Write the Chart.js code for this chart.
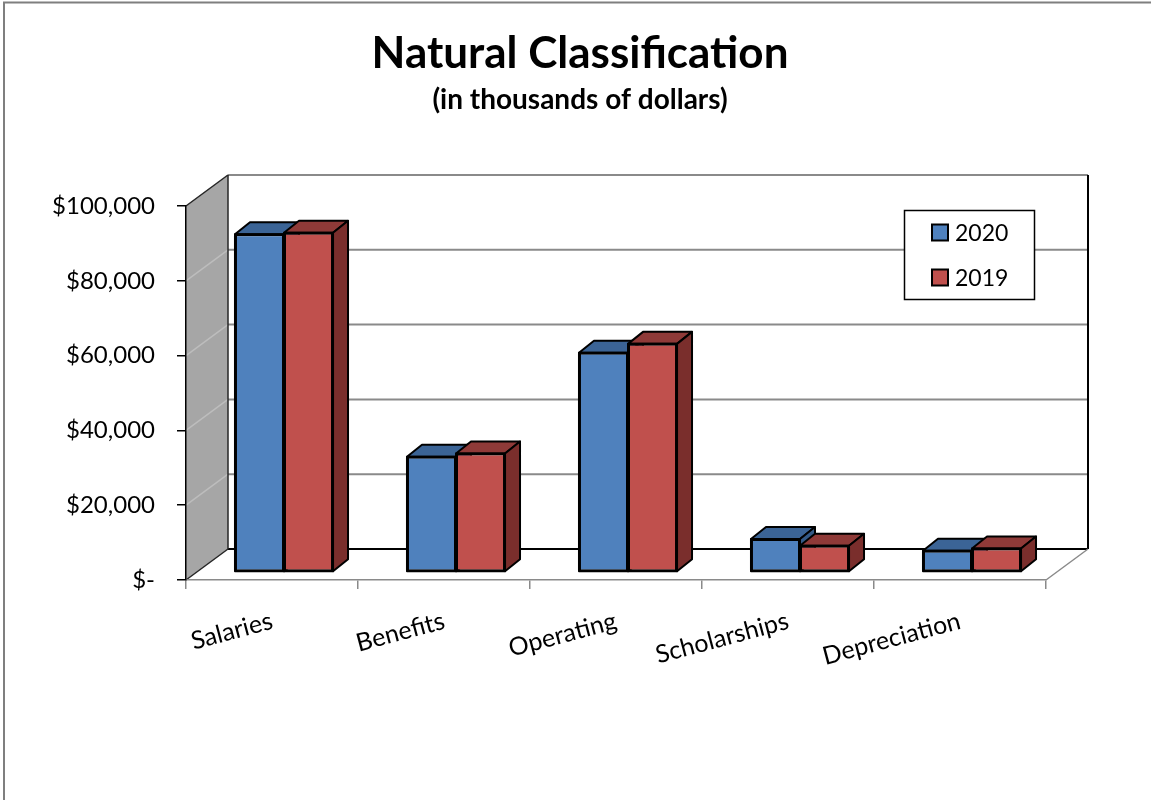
<!DOCTYPE html>
<html>
<head>
<meta charset="utf-8">
<script src="https://cdn.jsdelivr.net/npm/chart.js@4.4.1/dist/chart.umd.min.js"></script>
<style>
  html, body { margin: 0; padding: 0; background: #fff; }
  #wrap { width: 1151px; height: 800px; position: relative; }
</style>
</head>
<body>
<div id="wrap"><canvas id="c" width="1151" height="800"></canvas></div>
<script>
// Expense categories and yearly totals (in thousands of dollars)
const categories = ['Salaries', 'Benefits', 'Operating', 'Scholarships', 'Depreciation'];
const values2020 = [90300, 30800, 58600, 8800, 5700];
const values2019 = [90700, 31700, 61000, 7000, 6300];
const seriesLabels = ['2020', '2019'];
const yTickValues = [0, 20000, 40000, 60000, 80000, 100000];

// Face colours per series: front, top, side
const frontColors = ['#4f81bd', '#c0504d'];
const topColors = ['#3b6496', '#8f3a38'];
const sideColors = ['#345a87', '#7a2e2c'];

// Pseudo-3D projection offsets
const BACK = { dx: 42, dy: -31 };   // back wall relative to the front axis plane
const FRONT = { dx: 12, dy: -8 };   // front face of the bars
const DEPTH = { dx: 15, dy: -12 };  // bar thickness

Chart.defaults.font.family = 'Lato';
Chart.defaults.color = '#000';

function line(ctx, x1, y1, x2, y2) {
  ctx.beginPath();
  ctx.moveTo(x1, y1);
  ctx.lineTo(x2, y2);
  ctx.stroke();
}
function poly(ctx, pts, fill) {
  ctx.beginPath();
  ctx.moveTo(pts[0][0], pts[0][1]);
  for (let i = 1; i < pts.length; i++) ctx.lineTo(pts[i][0], pts[i][1]);
  ctx.closePath();
  ctx.fillStyle = fill;
  ctx.fill();
  ctx.stroke();
}

// Walls, floor and gridlines, painted underneath everything else
const wallsPlugin = {
  id: 'walls',
  beforeDraw(chart) {
    const { ctx, chartArea: a, scales: { y } } = chart;
    const top = y.getPixelForValue(y.max);
    const bot = y.getPixelForValue(0);
    const L = a.left, R = a.right;
    const bx = BACK.dx, by = BACK.dy;
    ctx.save();

    // outer frame
    ctx.strokeStyle = '#7f7f7f';
    ctx.lineWidth = 2;
    ctx.strokeRect(4, 2.5, chart.width + 20, chart.height + 20);

    // side wall
    ctx.beginPath();
    ctx.moveTo(L, top);
    ctx.lineTo(L + bx, top + by);
    ctx.lineTo(L + bx, bot + by);
    ctx.lineTo(L, bot);
    ctx.closePath();
    ctx.fillStyle = '#a6a6a6';
    ctx.fill();

    // gridlines on side and back walls
    y.ticks.forEach(t => {
      if (t.value === 0) return;
      const p = y.getPixelForValue(t.value);
      ctx.strokeStyle = '#bdbdbd';
      ctx.lineWidth = 1.5;
      line(ctx, L, p, L + bx, p + by);
      ctx.strokeStyle = '#8a8a8a';
      ctx.lineWidth = 2;
      line(ctx, L + bx, p + by, R + bx, p + by);
    });

    // floor and wall edges
    ctx.strokeStyle = '#000';
    ctx.lineWidth = 2;
    line(ctx, L + bx, bot + by, R + bx, bot + by);
    line(ctx, R + bx, top + by, R + bx, bot + by);
    ctx.strokeStyle = '#262626';
    ctx.lineWidth = 1.5;
    line(ctx, L + bx, top + by, L + bx, bot + by);
    line(ctx, L, top, L + bx, top + by);
    line(ctx, L, bot, L + bx, bot + by);
    ctx.strokeStyle = '#8a8a8a';
    ctx.lineWidth = 1.5;
    line(ctx, R, bot, R + bx, bot + by);

    ctx.restore();
  }
};

// Bars with top and side faces, painted category by category, left to right
const bars3dPlugin = {
  id: 'bars3d',
  beforeDatasetsDraw(chart) {
    const ctx = chart.ctx;
    const metas = chart.getSortedVisibleDatasetMetas().slice().sort((m1, m2) => m1.index - m2.index);
    ctx.save();
    ctx.translate(FRONT.dx, FRONT.dy);
    ctx.lineJoin = 'round';
    categories.forEach((_, i) => {
      metas.forEach(meta => {
        const el = meta.data[i];
        if (!el) return;
        const { x, y, base, width } = el.getProps(['x', 'y', 'base', 'width'], true);
        const xl = x - width / 2, xr = x + width / 2;
        el.draw(ctx);
        ctx.strokeStyle = '#000';
        ctx.lineWidth = 2;
        poly(ctx, [[xl, y], [xl + DEPTH.dx, y + DEPTH.dy], [xr + DEPTH.dx, y + DEPTH.dy], [xr, y]], topColors[meta.index]);
        poly(ctx, [[xr, y], [xr + DEPTH.dx, y + DEPTH.dy], [xr + DEPTH.dx, base + DEPTH.dy], [xr, base]], sideColors[meta.index]);
        ctx.strokeRect(xl, y, width, base - y);
      });
    });
    ctx.restore();
    return false;
  }
};

// Boxed legend inside the plot, top right
const boxLegendPlugin = {
  id: 'boxLegend',
  afterDraw(chart) {
    const { ctx, chartArea: a } = chart;
    const bx = a.right - 142, by = a.top + 4, bw = 130, bh = 89;
    ctx.save();
    ctx.fillStyle = '#fff';
    ctx.fillRect(bx, by, bw, bh);
    ctx.strokeStyle = '#000';
    ctx.lineWidth = 1.5;
    ctx.strokeRect(bx + 0.5, by + 0.5, bw, bh);
    ctx.font = '23px Lato';
    ctx.textBaseline = 'middle';
    ctx.textAlign = 'left';
    chart.data.datasets.forEach((ds, k) => {
      const cy = by + 22.5 + k * 45;
      ctx.fillStyle = frontColors[k];
      ctx.fillRect(bx + 28, cy - 8, 16, 16);
      ctx.lineWidth = 2;
      ctx.strokeRect(bx + 28, cy - 8, 16, 16);
      ctx.fillStyle = '#000';
      ctx.fillText(ds.label, bx + 51, cy + 1);
    });
    ctx.restore();
  }
};

const chart = new Chart(document.getElementById('c'), {
  type: 'bar',
  data: {
    labels: categories,
    datasets: [
      { label: seriesLabels[0], data: values2020, backgroundColor: frontColors[0] },
      { label: seriesLabels[1], data: values2019, backgroundColor: frontColors[1] }
    ]
  },
  options: {
    responsive: false,
    animation: false,
    events: [],
    layout: { padding: { left: 36, right: 27, top: 0, bottom: 0 } },
    datasets: {
      bar: {
        barPercentage: 1,
        categoryPercentage: 0.57,
        borderColor: '#000',
        borderWidth: 2,
        borderSkipped: false
      }
    },
    scales: {
      x: {
        afterFit(s) { s.height = 220; },
        grid: { display: true, drawOnChartArea: false, drawTicks: true, tickLength: 9, color: '#8a8a8a', lineWidth: 1.5, offset: true },
        border: { display: true, color: '#8a8a8a', width: 1.5 },
        ticks: { autoSkip: false, minRotation: 15, maxRotation: 15, padding: 17, color: '#000', font: { size: 25 } }
      },
      y: {
        min: 0,
        max: 100000,
        afterBuildTicks(s) { s.ticks = yTickValues.map(v => ({ value: v })); },
        afterFit(s) { s.width = 150; },
        grid: { display: true, drawOnChartArea: false, drawTicks: true, tickLength: 9, color: '#000', lineWidth: 1.5 },
        border: { display: true, color: '#000', width: 1.5 },
        ticks: {
          padding: 22,
          color: '#000',
          font: { size: 24 },
          callback: v => v === 0 ? '$-' : '$' + v.toLocaleString('en-US')
        }
      },
      // empty margin axis on the right, keeps room for the wall depth and legend
      yMargin: {
        position: 'right',
        display: true,
        afterFit(s) { s.width = 78; },
        grid: { display: false },
        border: { display: false },
        ticks: { display: false }
      }
    },
    plugins: {
      legend: { display: false },
      tooltip: { enabled: false },
      title: {
        display: true,
        text: 'Natural Classification',
        color: '#000',
        font: { size: 44, weight: 'bold' },
        padding: { top: 27.5, bottom: 0 }
      },
      subtitle: {
        display: true,
        text: '(in thousands of dollars)',
        color: '#000',
        font: { size: 28, weight: 'bold' },
        padding: { top: 3, bottom: 89.1 }
      }
    }
  },
  plugins: [wallsPlugin, bars3dPlugin, boxLegendPlugin]
});
</script>
</body>
</html>
